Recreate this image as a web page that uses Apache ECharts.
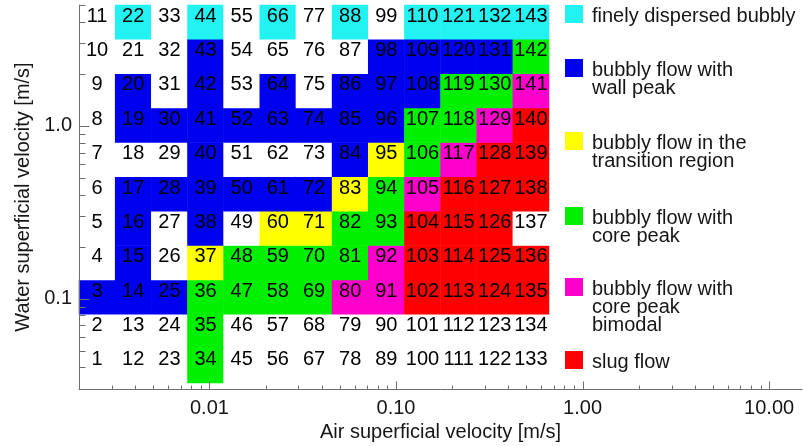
<!DOCTYPE html>
<html>
<head>
<meta charset="utf-8">
<script src="https://cdn.jsdelivr.net/npm/echarts@6/dist/echarts.min.js"></script>
<style>
  html, body { margin: 0; padding: 0; background: #ffffff; }
  #chart { width: 803px; height: 446px; }
</style>
</head>
<body>
<div id="chart"></div>
<script>
// Flow regimes, in legend order
const regimeNames = [
  'finely dispersed bubbly',
  'bubbly flow with\nwall peak',
  'bubbly flow in the\ntransition region',
  'bubbly flow with\ncore peak',
  'bubbly flow with\ncore peak\nbimodal',
  'slug flow'
];
const regimeCodes = ['F', 'W', 'T', 'C', 'B', 'S'];
const regimeColors = ['#22f2f2', '#0000f0', '#ffff00', '#00f000', '#ff00cc', '#ff0000'];

// Regime of every run: one string per water-velocity step (highest first),
// one character per air-velocity step. '.' = run not classified.
const regimeRows = [
  '.F.F.F.F.FFFF',
  '...W....WWWWC',
  '.W.W.W.WWWCCB',
  '.WWWWWWWWCCBS',
  '...W...WTCBSS',
  '.WWWWWWTCBSSS',
  '.W.W.TTCCSSS.',
  '.W.TCCCCBSSSS',
  'WWWCCCCBBSSSS',
  '...C.........',
  '...C.........'
];

// Axis ranges and tick positions [m/s]
const xRange = [0.002, 15];
const yRange = [0.03, 5];
const xMajorTicks = [0.01, 0.1, 1, 10];
const xMinorTicks = [0.003, 0.004, 0.005, 0.006, 0.007, 0.008, 0.009,
                     0.02, 0.03, 0.04, 0.05, 0.06, 0.07, 0.08, 0.09,
                     0.2, 0.3, 0.4, 0.5, 0.6, 0.7, 0.8, 0.9,
                     2, 3, 4, 5, 6, 7, 8, 9];
const yMajorTicks = [0.1, 1];
const yMinorTicks = [0.04, 0.05, 0.06, 0.07, 0.08, 0.09,
                     0.2, 0.3, 0.4, 0.5, 0.6, 0.7, 0.8, 0.9,
                     2, 3, 4, 5];

const FONT = '"Liberation Sans", Arial, Helvetica, sans-serif';
const TEXT = '#161616';
const AXIS = '#6e6e6e';

const nAir = regimeRows[0].length;
const nWater = regimeRows.length;

// Heatmap cells: [air step, water step, regime index (0 = none), run number]
const cells = [];
for (let c = 0; c < nAir; c++) {
  for (let r = 0; r < nWater; r++) {
    const code = regimeRows[nWater - 1 - r][c];
    const regime = regimeCodes.indexOf(code) + 1;
    cells.push([c, r, regime, c * nWater + r + 1]);
  }
}

function tickSeries(values, dir, len) {
  return {
    type: 'custom',
    xAxisIndex: 0,
    yAxisIndex: 0,
    silent: true,
    clip: false,
    z: 6,
    data: values.map(v => dir === 'x' ? [v, yRange[0]] : [xRange[0], v]),
    renderItem: (params, api) => {
      const p = api.coord([api.value(0), api.value(1)]);
      const px = Math.round(p[0]) + 0.5;
      const py = Math.round(p[1]) + 0.5;
      const shape = dir === 'x'
        ? { x1: px, y1: py, x2: px, y2: py - len }
        : { x1: px, y1: py, x2: px + len, y2: py };
      return { type: 'line', shape: shape, style: { stroke: AXIS, lineWidth: 1 } };
    }
  };
}

// Legend drawn as graphic elements
const legendTops = [5, 59, 132, 207, 278, 351];
const legendGraphics = [];
regimeNames.forEach((name, i) => {
  legendGraphics.push({
    type: 'rect',
    shape: { x: 565, y: legendTops[i], width: 18, height: 18 },
    style: { fill: regimeColors[i] },
    silent: true
  });
  legendGraphics.push({
    type: 'text',
    x: 592,
    y: legendTops[i] + 2,
    style: {
      text: name,
      font: '20px ' + FONT,
      fill: TEXT,
      lineHeight: 18,
      verticalAlign: 'top',
      align: 'left'
    },
    silent: true
  });
});

const chart = echarts.init(document.getElementById('chart'), null, { renderer: 'canvas' });

chart.setOption({
  animation: false,
  backgroundColor: '#ffffff',
  grid: [
    { left: 79, top: 5, right: 1, bottom: 57, outerBoundsMode: 'none', containLabel: false },
    { left: 79, top: 5, width: 470, height: 378, outerBoundsMode: 'none', containLabel: false }
  ],
  xAxis: [
    {
      type: 'log', logBase: 10, gridIndex: 0,
      min: xRange[0], max: xRange[1],
      z: 5,
      name: 'Air superficial velocity [m/s]',
      nameLocation: 'middle', nameGap: 30,
      nameTextStyle: { fontSize: 20, fontFamily: FONT, color: TEXT },
      axisLine: { show: true, lineStyle: { color: AXIS, width: 1 } },
      axisTick: { show: false },
      minorTick: { show: false },
      splitLine: { show: false },
      axisLabel: {
        showMinLabel: false, showMaxLabel: false,
        margin: 9, fontSize: 20, fontFamily: FONT, color: TEXT,
        formatter: v => Number(v).toFixed(2)
      }
    },
    {
      type: 'category', gridIndex: 1, show: false,
      data: Array.from({ length: nAir }, (_, i) => i)
    }
  ],
  yAxis: [
    {
      type: 'log', logBase: 10, gridIndex: 0,
      min: yRange[0], max: yRange[1],
      z: 5,
      name: 'Water superficial velocity [m/s]',
      nameLocation: 'middle', nameGap: 46,
      nameTextStyle: { fontSize: 20, fontFamily: FONT, color: TEXT },
      axisLine: { show: true, lineStyle: { color: AXIS, width: 1 } },
      axisTick: { show: false },
      minorTick: { show: false },
      splitLine: { show: false },
      axisLabel: {
        showMinLabel: false, showMaxLabel: false,
        margin: 7, fontSize: 20, fontFamily: FONT, color: TEXT,
        formatter: v => Number(v).toFixed(1)
      }
    },
    {
      type: 'category', gridIndex: 1, show: false,
      data: Array.from({ length: nWater }, (_, i) => i)
    }
  ],
  visualMap: {
    type: 'piecewise',
    show: false,
    seriesIndex: 0,
    dimension: 2,
    pieces: [{ value: 0, color: '#ffffff' }].concat(
      regimeColors.map((c, i) => ({ value: i + 1, color: c }))
    )
  },
  series: [
    {
      type: 'heatmap',
      xAxisIndex: 1,
      yAxisIndex: 1,
      data: cells,
      z: 2,
      emphasis: { disabled: true },
      itemStyle: { borderWidth: 0 },
      label: {
        show: true,
        formatter: p => String(p.value[3]),
        fontSize: 20,
        fontFamily: FONT,
        color: '#000000',
        offset: [0, -6]
      }
    },
    tickSeries(xMajorTicks, 'x', 8),
    tickSeries(xMinorTicks, 'x', 4),
    tickSeries(yMajorTicks, 'y', 10),
    tickSeries(yMinorTicks, 'y', 6)
  ],
  graphic: legendGraphics
});
</script>
</body>
</html>
